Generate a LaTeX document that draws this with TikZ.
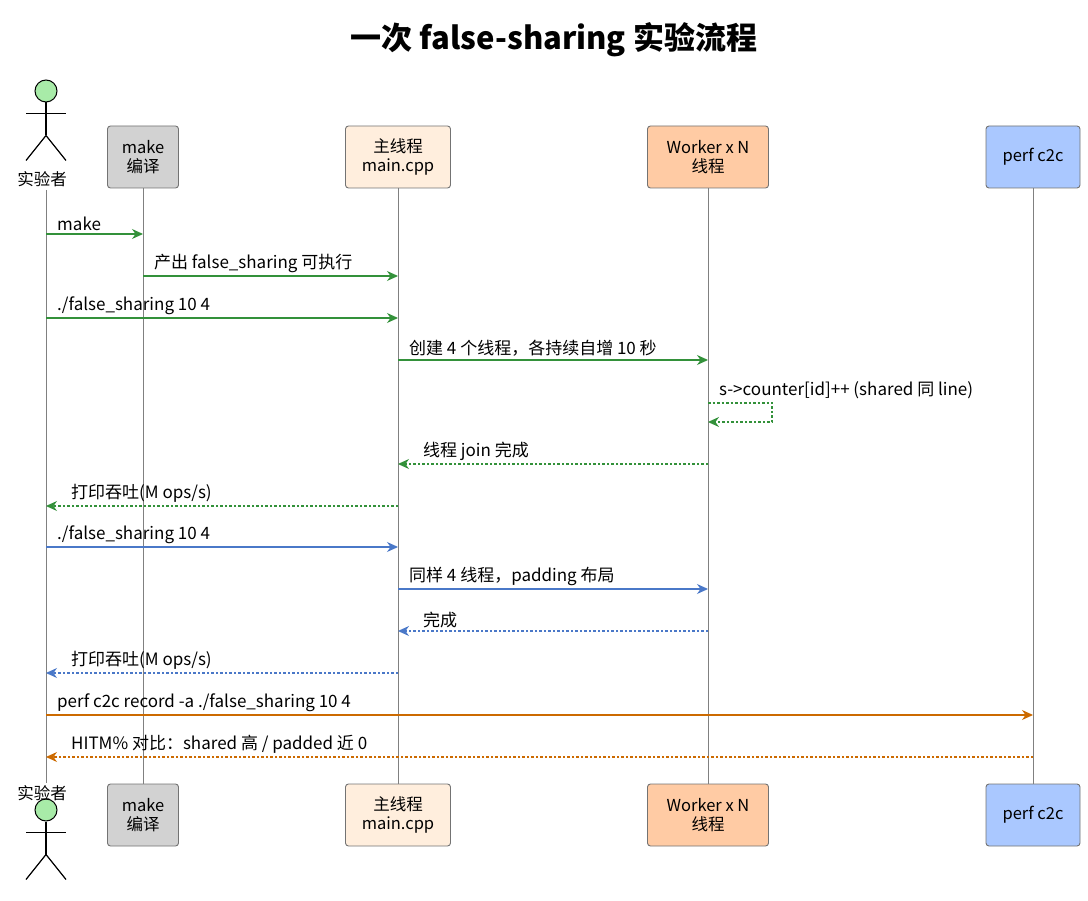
\documentclass[tikz,border=0pt]{standalone}
\usepackage{fontspec}
\setmainfont{Noto Sans CJK SC}
\usetikzlibrary{arrows.meta,positioning}
\definecolor{msggreen}{HTML}{33913A}
\definecolor{msgblue}{HTML}{4A78C8}
\definecolor{msgorange}{HTML}{CC6A00}
\definecolor{boxgray}{HTML}{D2D2D2}
\definecolor{boxmain}{HTML}{FFEEDD}
\definecolor{boxworker}{HTML}{FFCBA4}
\definecolor{boxperf}{HTML}{AAC8FF}
\definecolor{actgreen}{HTML}{A8EBA8}
\tikzset{
  part/.style={draw=black!55, line width=0.9pt, rounded corners=3pt, minimum height=62pt, align=center, font=\fontsize{16.5}{19}\selectfont, inner sep=2pt},
  life/.style={draw=black!50, line width=1pt},
  msg/.style={-{Stealth[length=11pt,width=10pt]}, line width=1.2pt},
  ret/.style={msg, dash pattern=on 2.5pt off 2pt},
  lbl/.style={font=\fontsize{17}{19}\selectfont, anchor=south west, inner sep=1pt}
}
\begin{document}
\begin{tikzpicture}[x=1pt,y=-1pt]
\useasboundingbox (0,0) rectangle (1088,901);
\node[font=\bfseries\fontsize{31}{34}\selectfont] (title) at (554,40) {一次 false-sharing 实验流程};
% participants, top and bottom
\foreach \y/\s in {157/t,815/b}{
  \node[part, fill=boxgray, minimum width=71pt] (make\s) at (143,\y) {make\\编译};
  \node[part, fill=boxmain, minimum width=105pt] (main\s) at (398,\y) {主线程\\main.cpp};
  \node[part, fill=boxworker, minimum width=121pt] (work\s) at (708,\y) {Worker x N\\线程};
  \node[part, fill=boxperf, minimum width=94pt] (perf\s) at (1033,\y) {perf c2c};
}
% actor
\foreach \y/\s in {91/t,810/b}{
  \node[circle, draw, line width=1pt, fill=actgreen, minimum size=22pt, inner sep=0pt] (head\s) at (46,\y) {};
  \draw[line width=1.2pt] (head\s.south) -- ++(0,33) coordinate (hip\s);
  \draw[line width=1.2pt] ([yshift=-11pt]head\s.south) ++(-20,0) -- ++(40,0);
  \draw[line width=1.2pt] (hip\s) -- ++(-20,25) (hip\s) -- ++(20,25);
}
\node[font=\fontsize{16.5}{19}\selectfont] (actt) at (42,179) {实验者};
\node[font=\fontsize{16.5}{19}\selectfont] (actb) at (42,793) {实验者};
% lifelines
\draw[life] (46,190) -- (46,783);
\draw[life] (maket) -- (makeb);
\draw[life] (maint) -- (mainb);
\draw[life] (workt) -- (workb);
\draw[life] (perft) -- (perfb);
% messages
\coordinate (a) at (46,0); \coordinate (m) at (143,0); \coordinate (c) at (398,0);
\coordinate (w) at (708,0); \coordinate (p) at (1033,0);
\foreach \f/\t/\y/\st/\col/\txt in {
  a/m/234/msg/msggreen/{make},
  m/c/276/msg/msggreen/{产出 false\_sharing 可执行},
  a/c/318/msg/msggreen/{./false\_sharing 10 4},
  c/w/360/msg/msggreen/{创建 4 个线程，各持续自增 10 秒},
  a/c/547/msg/msgblue/{./false\_sharing 10 4},
  c/w/589/msg/msgblue/{同样 4 线程，padding 布局},
  a/p/715/msg/msgorange/{perf c2c record -a ./false\_sharing 10 4}}{
  \draw[\st, color=\col] (\f |- 0,\y) -- (\t |- 0,\y);
  \node[lbl] at ([xshift=10pt]\f |- 0,\y-2) {\txt};
}
\foreach \f/\t/\y/\col/\txt in {
  w/c/464/msggreen/{线程 join 完成},
  c/a/506/msggreen/{打印吞吐(M ops/s)},
  w/c/631/msgblue/{完成},
  c/a/673/msgblue/{打印吞吐(M ops/s)},
  p/a/757/msgorange/{HITM\% 对比：shared 高 / padded 近 0}}{
  \draw[ret, color=\col] (\f |- 0,\y) -- (\t |- 0,\y);
  \node[lbl] at ([xshift=24pt]\t |- 0,\y-2) {\txt};
}
% self message
\draw[ret, color=msggreen] (708,403) -- (772,403) -- (772,422) -- (708,422);
\node[lbl] at (718,400) {s->counter[id]++ (shared 同 line)};
\end{tikzpicture}
\end{document}
